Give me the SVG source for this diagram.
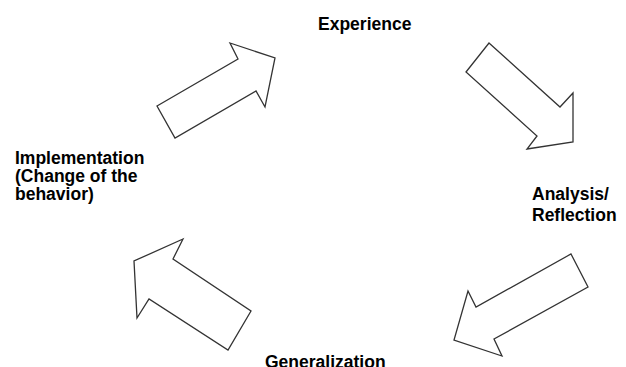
<svg xmlns="http://www.w3.org/2000/svg" width="626" height="367" viewBox="0 0 626 367">
<style>
.arrow{fill:#fff;stroke:#333;stroke-width:1.3;stroke-linejoin:miter}
.lbl{font-family:"Liberation Sans",Arial,sans-serif;font-weight:bold;font-size:17.5px;fill:#000}
</style>
<rect width="626" height="367" fill="#fff"/>
<g id="connectors">
<polygon id="arrow-up-right" class="arrow" points="157,106 238,59 230,43 275,58 265,107 256,91 175,138"/>
<polygon id="arrow-down-right" class="arrow" points="489,43 560,107 573,93 573,142 527,149 537,136 466,72"/>
<polygon id="arrow-down-left" class="arrow" points="571,254 588,287 494,339 502,356 454,340 468,291 476,307"/>
<polygon id="arrow-up-left" class="arrow" points="183,239 173,259 251,311 228,350 149,299 137,318 134,261"/>
</g>
<g id="experience"><text class="lbl" x="318" y="30">Experience</text></g>
<g id="analysis"><text class="lbl" x="532" y="200">Analysis/</text><text class="lbl" x="532" y="221">Reflection</text></g>
<g id="generalization"><text class="lbl" x="265" y="368">Generalization</text></g>
<g id="implementation"><text class="lbl" x="15" y="164">Implementation</text><text class="lbl" x="15" y="182">(Change of the</text><text class="lbl" x="15" y="200">behavior)</text></g>
</svg>
